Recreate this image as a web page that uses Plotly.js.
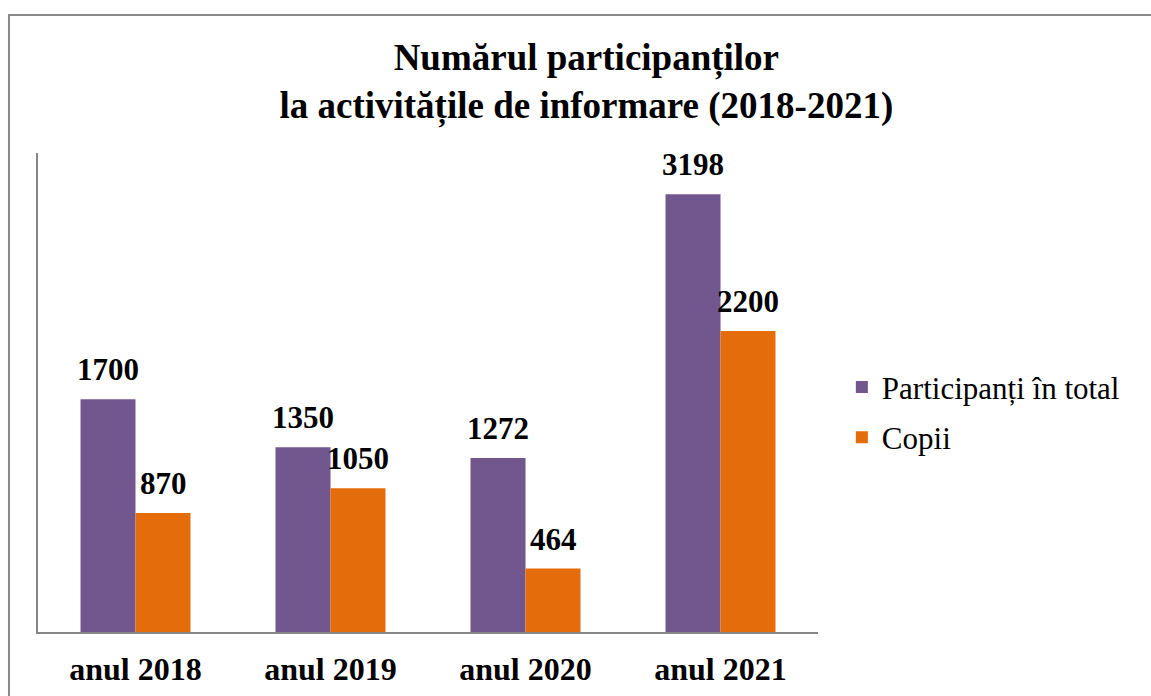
<!DOCTYPE html>
<html>
<head>
<meta charset="utf-8">
<script src="https://cdn.plot.ly/plotly-3.0.1.min.js"></script>
<style>
html,body{margin:0;padding:0;background:#fff;}
#chart{width:1151px;height:696px;}
</style>
</head>
<body>
<div id="chart"></div>
<script>
const categories = ["anul 2018", "anul 2019", "anul 2020", "anul 2021"];
const seriesNames = ["Participanți în total", "Copii"];
const totalValues = [1700, 1350, 1272, 3198];
const childValues = [870, 1050, 464, 2200];
const seriesColors = ["#72578F", "#E46C0A"];
const titleLines = ["Numărul participanților", "la activitățile de informare (2018-2021)"];

const serif = "'Liberation Serif', 'Times New Roman', Times, serif";

function barTrace(name, values, color, group) {
  return {
    type: "bar",
    name: name,
    x: categories,
    y: values,
    marker: {color: color, line: {width: 0}},
    legendgroup: group,
    hoverinfo: "x+y+name"
  };
}

const data = [
  barTrace(seriesNames[0], totalValues, seriesColors[0], "g1"),
  barTrace(seriesNames[1], childValues, seriesColors[1], "g2")
];

// value labels above bars, built from the data arrays
const annotations = [];
[totalValues, childValues].forEach((vals, si) => {
  vals.forEach((v, i) => {
    annotations.push({
      x: categories[i], y: v, xref: "x", yref: "y",
      text: "<b>" + v + "</b>",
      showarrow: false,
      xanchor: "center", yanchor: "bottom",
      xshift: si === 0 ? -27.5 : 27.5,
      yshift: 10,
      font: {family: serif, size: 31, color: "#000"}
    });
  });
});

const layout = {
  width: 1151,
  height: 696,
  margin: {l: 38, r: 333, t: 153, b: 64, pad: 0},
  paper_bgcolor: "#fff",
  plot_bgcolor: "#fff",
  barmode: "group",
  bargap: 0.436,
  bargroupgap: 0,
  showlegend: true,
  title: {
    text: "<b>" + titleLines.join("<br>") + "</b>",
    font: {family: serif, size: 37, color: "#000"},
    x: 0.703, xref: "paper", xanchor: "center",
    y: 0.90, yref: "container", yanchor: "top"
  },
  xaxis: {
    type: "category",
    showline: true, linecolor: "#868686", linewidth: 2,
    ticks: "", showgrid: false, zeroline: false,
    tickfont: {family: serif, size: 32, color: "#000", weight: "bold"},
    ticklabelstandoff: 8,
    fixedrange: true
  },
  yaxis: {
    range: [0, 3500],
    showline: true, linecolor: "#868686", linewidth: 2,
    showticklabels: false, ticks: "", showgrid: false, zeroline: false,
    fixedrange: true
  },
  legend: {
    x: 1.0306, xref: "paper", xanchor: "left",
    y: 0.567, yref: "paper", yanchor: "top",
    font: {family: serif, size: 31, color: "#000"},
    traceorder: "grouped",
    tracegroupgap: 7,
    itemwidth: 30,
    bgcolor: "rgba(0,0,0,0)"
  },
  annotations: annotations,
  shapes: [{
    type: "rect", xref: "paper", yref: "paper",
    x0: -0.0372, x1: 1.6, y0: -0.3, y1: 1.288,
    line: {color: "#8A8A8A", width: 2}, fillcolor: "rgba(0,0,0,0)", layer: "below"
  }]
};

Plotly.newPlot("chart", data, layout, {displayModeBar: false, staticPlot: true});
</script>
</body>
</html>
